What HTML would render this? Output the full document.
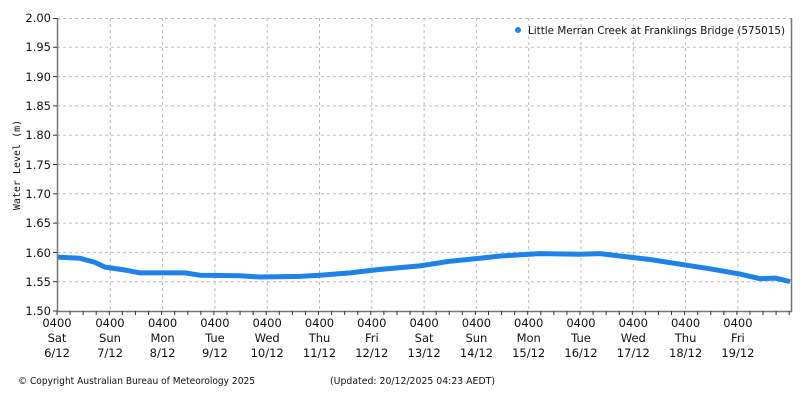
<!DOCTYPE html>
<html><head><meta charset="utf-8"><style>
body{margin:0;background:#fff}
svg text{font-family:"DejaVu Sans","Liberation Sans",sans-serif;font-size:11.5px;fill:#111}
</style></head><body>
<svg width="800" height="400" xmlns="http://www.w3.org/2000/svg">
<g stroke="#bbb" stroke-dasharray="3,3" stroke-width="1">
<line x1="57" x2="791" y1="47.3" y2="47.3"/><line x1="57" x2="791" y1="76.6" y2="76.6"/><line x1="57" x2="791" y1="105.9" y2="105.9"/><line x1="57" x2="791" y1="135.2" y2="135.2"/><line x1="57" x2="791" y1="164.5" y2="164.5"/><line x1="57" x2="791" y1="193.8" y2="193.8"/><line x1="57" x2="791" y1="223.1" y2="223.1"/><line x1="57" x2="791" y1="252.4" y2="252.4"/><line x1="57" x2="791" y1="281.7" y2="281.7"/>
<line x1="57" x2="791" y1="18.5" y2="18.5"/>
<line y1="18" y2="311" x1="110.3" x2="110.3"/><line y1="18" y2="311" x1="162.6" x2="162.6"/><line y1="18" y2="311" x1="214.9" x2="214.9"/><line y1="18" y2="311" x1="267.2" x2="267.2"/><line y1="18" y2="311" x1="319.5" x2="319.5"/><line y1="18" y2="311" x1="371.8" x2="371.8"/><line y1="18" y2="311" x1="424.1" x2="424.1"/><line y1="18" y2="311" x1="476.4" x2="476.4"/><line y1="18" y2="311" x1="528.7" x2="528.7"/><line y1="18" y2="311" x1="581" x2="581"/><line y1="18" y2="311" x1="633.3" x2="633.3"/><line y1="18" y2="311" x1="685.6" x2="685.6"/><line y1="18" y2="311" x1="737.9" x2="737.9"/>
</g>
<polyline fill="none" stroke="#1e82e6" stroke-width="5" stroke-linejoin="round" points="57,257.1 80,258.3 95,262.4 105,267.1 125,270 140,272.9 160,272.9 185,272.9 200,275.2 240,275.8 260,277 300,276.4 320,275.2 350,272.9 380,269.4 420,265.9 450,261.2 480,258.3 500,256 540,253.6 580,254.2 600,253.6 620,256 650,259.5 680,264.2 710,268.8 740,274.1 760,278.7 775,278.1 790,281.6"/>
<g stroke="#777" stroke-width="1.5" fill="none">
<polyline points="57.5,18 57.5,311.5 791.5,311.5 791.5,18"/>
</g>
<g stroke="#333" stroke-width="1">
<line x1="53" x2="57" y1="18.5" y2="18.5"/><line x1="53" x2="57" y1="47.3" y2="47.3"/><line x1="53" x2="57" y1="76.6" y2="76.6"/><line x1="53" x2="57" y1="105.9" y2="105.9"/><line x1="53" x2="57" y1="135.2" y2="135.2"/><line x1="53" x2="57" y1="164.5" y2="164.5"/><line x1="53" x2="57" y1="193.8" y2="193.8"/><line x1="53" x2="57" y1="223.1" y2="223.1"/><line x1="53" x2="57" y1="252.4" y2="252.4"/><line x1="53" x2="57" y1="281.7" y2="281.7"/><line x1="53" x2="57" y1="311" y2="311"/>
</g>
<g id="ticks" stroke="#333" stroke-width="1"></g>
<g text-anchor="end">
<text x="51" y="22">2.00</text><text x="51" y="51">1.95</text><text x="51" y="81">1.90</text><text x="51" y="110">1.85</text><text x="51" y="139">1.80</text><text x="51" y="169">1.75</text><text x="51" y="198">1.70</text><text x="51" y="227">1.65</text><text x="51" y="257">1.60</text><text x="51" y="286">1.55</text><text x="51" y="315">1.50</text>
</g>
<g text-anchor="middle">
<text x="57" y="327">0400</text><text x="57" y="342">Sat</text><text x="57" y="357">6/12</text>
<text x="110" y="327">0400</text><text x="110" y="342">Sun</text><text x="110" y="357">7/12</text>
<text x="162.6" y="327">0400</text><text x="162.6" y="342">Mon</text><text x="162.6" y="357">8/12</text>
<text x="214.9" y="327">0400</text><text x="214.9" y="342">Tue</text><text x="214.9" y="357">9/12</text>
<text x="267.2" y="327">0400</text><text x="267.2" y="342">Wed</text><text x="267.2" y="357">10/12</text>
<text x="319.5" y="327">0400</text><text x="319.5" y="342">Thu</text><text x="319.5" y="357">11/12</text>
<text x="371.8" y="327">0400</text><text x="371.8" y="342">Fri</text><text x="371.8" y="357">12/12</text>
<text x="424.1" y="327">0400</text><text x="424.1" y="342">Sat</text><text x="424.1" y="357">13/12</text>
<text x="476.4" y="327">0400</text><text x="476.4" y="342">Sun</text><text x="476.4" y="357">14/12</text>
<text x="528.7" y="327">0400</text><text x="528.7" y="342">Mon</text><text x="528.7" y="357">15/12</text>
<text x="581" y="327">0400</text><text x="581" y="342">Tue</text><text x="581" y="357">16/12</text>
<text x="633.3" y="327">0400</text><text x="633.3" y="342">Wed</text><text x="633.3" y="357">17/12</text>
<text x="685.6" y="327">0400</text><text x="685.6" y="342">Thu</text><text x="685.6" y="357">18/12</text>
<text x="737.9" y="327">0400</text><text x="737.9" y="342">Fri</text><text x="737.9" y="357">19/12</text>
</g>
<text transform="translate(20,165) rotate(-90)" text-anchor="middle" style="font-family:'DejaVu Sans Mono','Liberation Mono',monospace;font-size:10px">Water Level (m)</text>
<circle cx="518" cy="30" r="3" fill="#1e82e6"/>
<text x="528" y="34" textLength="257" lengthAdjust="spacingAndGlyphs" style="font-size:11px">Little Merran Creek at Franklings Bridge (575015)</text>
<text x="18" y="384" textLength="237" lengthAdjust="spacingAndGlyphs" style="font-size:10px">© Copyright Australian Bureau of Meteorology 2025</text>
<text x="330" y="384" textLength="165" lengthAdjust="spacingAndGlyphs" style="font-size:10px">(Updated: 20/12/2025 04:23 AEDT)</text>
</svg>
<script>
var g=document.getElementById('ticks'),s='';
for(var i=0;i<=56;i++){var x=57+i*13.075;s+='<line x1="'+x+'" x2="'+x+'" y1="311" y2="315"/>';}
g.innerHTML=s;
</script>
</body></html>
